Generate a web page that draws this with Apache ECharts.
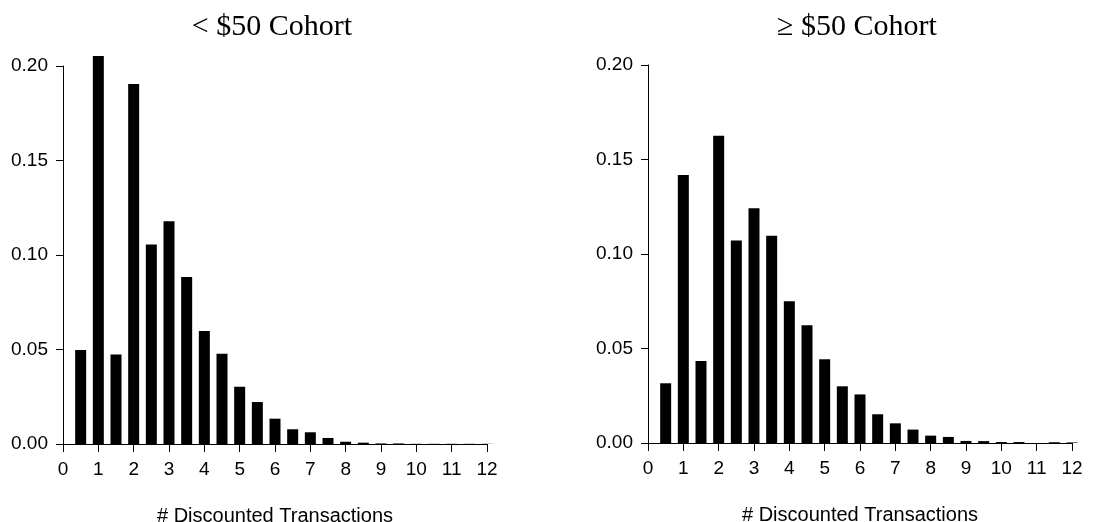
<!DOCTYPE html>
<html>
<head>
<meta charset="utf-8">
<script src="https://cdn.jsdelivr.net/npm/echarts@6/dist/echarts.min.js"></script>
<style>
  html, body { margin: 0; padding: 0; background: #fff; }
  #main { width: 1119px; height: 522px; }
</style>
</head>
<body>
<div id="main"></div>
<script>
// bin positions (# discounted transactions)
var positions = [0.5, 1, 1.5, 2, 2.5, 3, 3.5, 4, 4.5, 5, 5.5, 6, 6.5, 7, 7.5, 8, 8.5, 9, 9.5, 10, 10.5, 11, 11.5, 12];
// < $50 cohort
var lowCohort = [0.0497, 0.2053, 0.0473, 0.1905, 0.1055, 0.1178, 0.0884, 0.0598, 0.0478, 0.0303, 0.0222, 0.0134,
                 0.0078, 0.0062, 0.0032, 0.0012, 0.0007, 0.0003, 0.0003, 0.0001, 0.0001, 0.0001, 0.0001, 0.0001];
// >= $50 cohort
var highCohort = [0.0316, 0.1418, 0.0434, 0.1626, 0.1072, 0.1242, 0.1097, 0.0750, 0.0623, 0.0443, 0.0300, 0.0257,
                  0.0152, 0.0104, 0.0071, 0.0039, 0.0032, 0.0011, 0.0010, 0.0005, 0.0005, 0.0000, 0.0004, 0.0003];
var titles = ['< $50 Cohort', '\u2265 $50 Cohort'];
var xName = '# Discounted Transactions';

var sans = 'Liberation Sans';
var black = '#000';

function pairs(vals) {
    return positions.map(function (x, i) { return [x, vals[i]]; });
}

function xAxisFor(idx) {
    return {
        type: 'value', gridIndex: idx, min: 0, max: 12, interval: 1,
        name: xName, nameLocation: 'middle', nameGap: 62,
        nameTextStyle: {fontFamily: sans, fontSize: 20, color: black},
        splitLine: {show: false},
        axisLine: {onZero: false, lineStyle: {color: black, width: 1}},
        axisTick: {length: 8, lineStyle: {color: black}},
        axisLabel: {margin: 16, fontFamily: sans, fontSize: 19, color: black}
    };
}

function yAxisFor(idx) {
    return {
        type: 'value', gridIndex: idx, min: 0, max: 0.2, interval: 0.05,
        splitLine: {show: false},
        axisLine: {show: true, lineStyle: {color: black, width: 1}},
        axisTick: {show: true, length: 7, lineStyle: {color: black}},
        axisLabel: {margin: 15, fontFamily: sans, fontSize: 19, color: black,
            formatter: function (v) { return v.toFixed(2); }}
    };
}

var chart = echarts.init(document.getElementById('main'));
chart.setOption({
    animation: false,
    backgroundColor: '#fff',
    title: [
        {text: titles[0], left: 272, top: 12, padding: 0, textAlign: 'center',
         textStyle: {fontFamily: 'Liberation Serif', fontSize: 30, fontWeight: 'normal', color: black}},
        {text: titles[1], left: 857, top: 12, padding: 0, textAlign: 'center',
         textStyle: {fontFamily: 'Liberation Serif', fontSize: 30, fontWeight: 'normal', color: black}}
    ],
    grid: [
        {left: 63, right: 632, top: 66, bottom: 78, outerBoundsMode: 'none'},
        {left: 648, right: 47, top: 65, bottom: 79, outerBoundsMode: 'none'}
    ],
    xAxis: [xAxisFor(0), xAxisFor(1)],
    yAxis: [yAxisFor(0), yAxisFor(1)],
    series: [
        {type: 'bar', xAxisIndex: 0, yAxisIndex: 0, barWidth: 11, clip: false,
         itemStyle: {color: black}, data: pairs(lowCohort)},
        {type: 'bar', xAxisIndex: 1, yAxisIndex: 1, barWidth: 11, clip: false,
         itemStyle: {color: black}, data: pairs(highCohort)}
    ]
});
</script>
</body>
</html>
